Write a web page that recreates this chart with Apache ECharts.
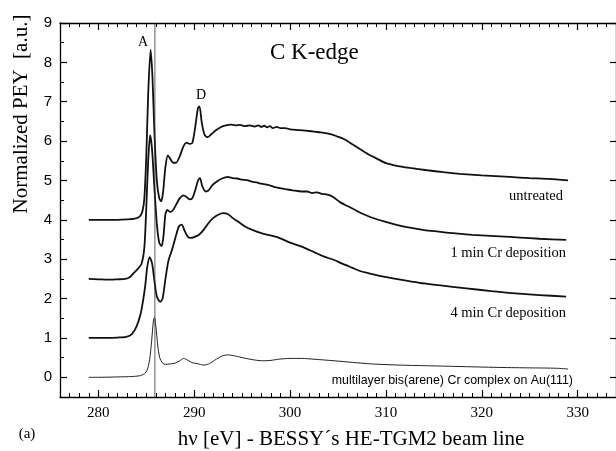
<!DOCTYPE html>
<html>
<head>
<meta charset="utf-8">
<script src="https://cdn.jsdelivr.net/npm/echarts@6/dist/echarts.min.js"></script>
<style>html,body{margin:0;padding:0;background:#fff;}#c{width:616px;height:451px;}</style>
</head>
<body>
<div id="c"></div>
<script>
// ---- data ----
const untreatedE = [279,280,281,282,283,283.8,284.3,284.6,284.8,285.0,285.2,285.45,285.65,285.85,286.1,286.35,286.55,286.75,287.0,287.25,287.5,287.8,288.1,288.5,288.9,289.2,289.5,289.8,290.1,290.4,290.55,290.8,291.1,291.4,291.8,292.3,292.8,293.3,293.8,294.3,294.8,295.3,295.8,296.3,296.7,297.0,297.3,297.6,297.9,298.2,298.6,299.0,299.5,300.0,301,302.2,303.2,304.3,305.0,305.7,306.5,307.4,308.2,309.1,310.0,311,312.5,314.3,316,317.7,320,322.9,325,327,329];
const untreatedV = [4.00,4.00,4.00,4.00,4.01,4.03,4.08,4.22,4.55,5.6,7.2,8.32,7.6,6.2,5.0,4.55,4.47,4.7,5.35,5.64,5.55,5.45,5.45,5.62,5.88,5.96,5.93,5.95,6.35,6.85,6.88,6.45,6.15,6.10,6.18,6.28,6.36,6.40,6.42,6.40,6.41,6.38,6.40,6.37,6.40,6.36,6.39,6.35,6.38,6.33,6.36,6.33,6.33,6.30,6.28,6.25,6.22,6.17,6.11,6.04,5.92,5.78,5.66,5.55,5.44,5.38,5.32,5.26,5.21,5.17,5.13,5.09,5.06,5.04,5.00];

const min1E = [279,280,281,282,282.8,283.3,283.7,284.1,284.5,284.8,285.0,285.2,285.4,285.6,285.85,286.1,286.35,286.6,286.8,287.0,287.2,287.5,287.8,288.1,288.5,288.9,289.2,289.5,289.8,290.1,290.4,290.6,290.85,291.2,291.5,291.9,292.4,292.9,293.5,294.0,294.5,295.0,295.5,296.0,296.5,297.0,297.7,298.3,298.8,299.5,300.3,301.2,301.8,302.3,302.8,303.3,303.9,304.5,305.2,306.0,306.8,307.5,308.5,309.8,311,312.5,314,315.5,317,319,321.9,324,326,328.8];
const min1V = [2.50,2.49,2.48,2.49,2.50,2.55,2.65,2.75,2.88,3.3,4.3,5.5,6.15,5.8,4.8,3.9,3.42,3.33,3.6,4.15,4.25,4.2,4.25,4.38,4.55,4.62,4.58,4.52,4.55,4.75,5.0,5.06,4.85,4.72,4.75,4.88,4.98,5.05,5.09,5.06,5.05,5.02,5.01,4.97,4.95,4.92,4.89,4.84,4.81,4.78,4.75,4.72,4.72,4.68,4.70,4.66,4.64,4.58,4.45,4.35,4.25,4.16,4.06,3.96,3.88,3.80,3.74,3.70,3.66,3.62,3.58,3.55,3.52,3.49];

const min4E = [279,280,281,282,282.9,283.5,284.0,284.4,284.7,284.9,285.1,285.35,285.6,285.85,286.1,286.45,286.7,287.0,287.3,287.7,288.1,288.4,288.7,289.0,289.3,289.6,290.0,290.5,291.0,291.5,292.0,292.5,293.0,293.5,294.0,294.6,295.3,296.0,297.0,297.7,298.8,300.0,301.2,302.5,303.5,304.6,305.5,306.5,307.3,308.1,309.5,311.5,313.5,315.5,318.4,321,323.5,326,328.8];
const min4V = [1.00,1.00,1.00,1.01,1.03,1.10,1.30,1.60,2.0,2.35,2.8,3.05,2.9,2.45,2.05,1.92,2.0,2.5,2.95,3.25,3.6,3.83,3.88,3.72,3.58,3.54,3.56,3.62,3.75,3.92,4.05,4.13,4.17,4.15,4.05,3.95,3.83,3.75,3.66,3.62,3.55,3.42,3.32,3.18,3.07,2.98,2.88,2.78,2.70,2.65,2.57,2.48,2.40,2.34,2.26,2.19,2.13,2.09,2.05];

const multiE = [279,280,282,283.5,284.3,284.8,285.1,285.35,285.55,285.75,285.85,286.0,286.2,286.4,286.7,287.0,287.5,288.0,288.5,288.9,289.3,289.8,290.3,291.0,291.6,292.3,293.0,293.5,294.3,295.2,296.3,297.2,298.0,298.8,300.0,301.2,302.5,304.6,306.5,308.5,311.5,315,318.4,322,325,327.8,329];
const multiV = [0.00,0.00,0.01,0.02,0.04,0.09,0.19,0.45,0.9,1.45,1.52,1.3,0.8,0.5,0.36,0.33,0.34,0.36,0.42,0.48,0.44,0.37,0.35,0.31,0.35,0.46,0.55,0.57,0.54,0.49,0.44,0.42,0.43,0.46,0.48,0.48,0.46,0.42,0.38,0.34,0.31,0.29,0.27,0.25,0.24,0.23,0.21];

const markerE = 285.9;
const xTickLabels = [280,290,300,310,320,330];
const xMinorTicks = [276,277,278,279,280,281,282,283,284,285,286,287,288,289,290,291,292,293,294,295,296,297,298,299,300,301,302,303,304,305,306,307,308,309,310,311,312,313,314,315,316,317,318,319,320,321,322,323,324,325,326,327,328,329,330,331,332,333,334];
const yTickLabels = [0,1,2,3,4,5,6,7,8,9];
const yMinorTicks = [-0.5,0.5,1.5,2.5,3.5,4.5,5.5,6.5,7.5,8.5];
const seriesNames = ['untreated','1 min Cr deposition','4 min Cr deposition','multilayer bis(arene) Cr complex on Au(111)'];

// ---- chart ----
const pair = (e, v) => e.map((x, i) => [x, v[i]]);
const XMIN = 276, XMAX = 334, YMIN = -0.5, YMAX = 9;
const serif = "'Liberation Serif','Times New Roman',serif";
const sans = "'Liberation Sans',Arial,sans-serif";
const lineAx = {lineStyle: {color: '#000', width: 1.3}, onZero: false};

const chart = echarts.init(document.getElementById('c'), null, {renderer: 'canvas'});
const xBase = {type: 'value', min: XMIN, max: XMAX, gridIndex: 0, splitLine: {show: false}};
const yBase = {type: 'value', min: YMIN, max: YMAX, gridIndex: 0, splitLine: {show: false}};
chart.setOption({
  animation: false,
  backgroundColor: '#fff',
  grid: {left: 60, top: 23, right: -4, bottom: 54},
  xAxis: [
    Object.assign({}, xBase, {position: 'bottom', axisLine: lineAx,
      axisTick: {inside: true, length: 7, customValues: xTickLabels, lineStyle: {color: '#000', width: 1.2}},
      axisLabel: {customValues: xTickLabels, fontFamily: serif, fontSize: 15, color: '#000', margin: 9}}),
    Object.assign({}, xBase, {position: 'bottom', axisLine: {show: false, onZero: false},
      axisTick: {inside: true, length: 4, customValues: xMinorTicks, lineStyle: {color: '#000', width: 1}},
      axisLabel: {show: false}}),
    Object.assign({}, xBase, {position: 'top', axisLine: lineAx,
      axisTick: {inside: true, length: 7, customValues: xTickLabels, lineStyle: {color: '#000', width: 1.2}},
      axisLabel: {show: false}}),
    Object.assign({}, xBase, {position: 'top', axisLine: {show: false, onZero: false},
      axisTick: {inside: true, length: 4, customValues: xMinorTicks, lineStyle: {color: '#000', width: 1}},
      axisLabel: {show: false}})
  ],
  yAxis: [
    Object.assign({}, yBase, {position: 'left', axisLine: lineAx,
      axisTick: {inside: true, length: 7, customValues: yTickLabels, lineStyle: {color: '#000', width: 1.2}},
      axisLabel: {customValues: yTickLabels, fontFamily: sans, fontSize: 15, color: '#000', margin: 8}}),
    Object.assign({}, yBase, {position: 'left', axisLine: {show: false, onZero: false},
      axisTick: {inside: true, length: 4, customValues: yMinorTicks, lineStyle: {color: '#000', width: 1}},
      axisLabel: {show: false}}),
    Object.assign({}, yBase, {position: 'right', axisLine: lineAx,
      axisTick: {inside: true, length: 6, customValues: yTickLabels, lineStyle: {color: '#000', width: 1.2}},
      axisLabel: {show: false}})
  ],
  series: [
    {name: seriesNames[0], type: 'line', data: pair(untreatedE, untreatedV), showSymbol: false, smooth: 0.25, lineStyle: {color: '#111', width: 1.8}},
    {name: seriesNames[1], type: 'line', data: pair(min1E, min1V), showSymbol: false, smooth: 0.25, lineStyle: {color: '#111', width: 1.8}},
    {name: seriesNames[2], type: 'line', data: pair(min4E, min4V), showSymbol: false, smooth: 0.25, lineStyle: {color: '#111', width: 1.8}},
    {name: seriesNames[3], type: 'line', data: pair(multiE, multiV), showSymbol: false, smooth: 0.25, lineStyle: {color: '#222', width: 1.0}},
    {name: 'marker', type: 'line', data: [[markerE, YMIN], [markerE, YMAX]], showSymbol: false, lineStyle: {color: '#333', width: 0.8}}
  ],
  graphic: [
    {type: 'text', x: 270, y: 53, style: {text: 'C K-edge', font: '23px ' + serif, fill: '#000', textAlign: 'left', textVerticalAlign: 'middle'}},
    {type: 'text', x: 143, y: 42, style: {text: 'A', font: '14px ' + serif, fill: '#000', textAlign: 'center', textVerticalAlign: 'middle'}},
    {type: 'text', x: 201, y: 95, style: {text: 'D', font: '14px ' + serif, fill: '#000', textAlign: 'center', textVerticalAlign: 'middle'}},
    {type: 'text', x: 563, y: 196, style: {text: seriesNames[0], font: '14.5px ' + serif, fill: '#000', textAlign: 'right', textVerticalAlign: 'middle'}},
    {type: 'text', x: 566, y: 253, style: {text: seriesNames[1], font: '14.5px ' + serif, fill: '#000', textAlign: 'right', textVerticalAlign: 'middle'}},
    {type: 'text', x: 566, y: 313, style: {text: seriesNames[2], font: '14.5px ' + serif, fill: '#000', textAlign: 'right', textVerticalAlign: 'middle'}},
    {type: 'text', x: 573, y: 381, style: {text: seriesNames[3], font: '12.4px ' + sans, fill: '#000', textAlign: 'right', textVerticalAlign: 'middle'}},
    {type: 'text', x: 351, y: 439, style: {text: 'hν [eV] - BESSY´s HE-TGM2 beam line', font: '21px ' + serif, fill: '#000', textAlign: 'center', textVerticalAlign: 'middle'}},
    {type: 'text', x: 21, y: 114, rotation: Math.PI / 2, style: {text: 'Normalized PEY  [a.u.]', font: '21px ' + serif, fill: '#000', textAlign: 'center', textVerticalAlign: 'middle'}},
    {type: 'text', x: 27, y: 434, style: {text: '(a)', font: '15px ' + serif, fill: '#000', textAlign: 'center', textVerticalAlign: 'middle'}}
  ]
});
</script>
</body>
</html>
